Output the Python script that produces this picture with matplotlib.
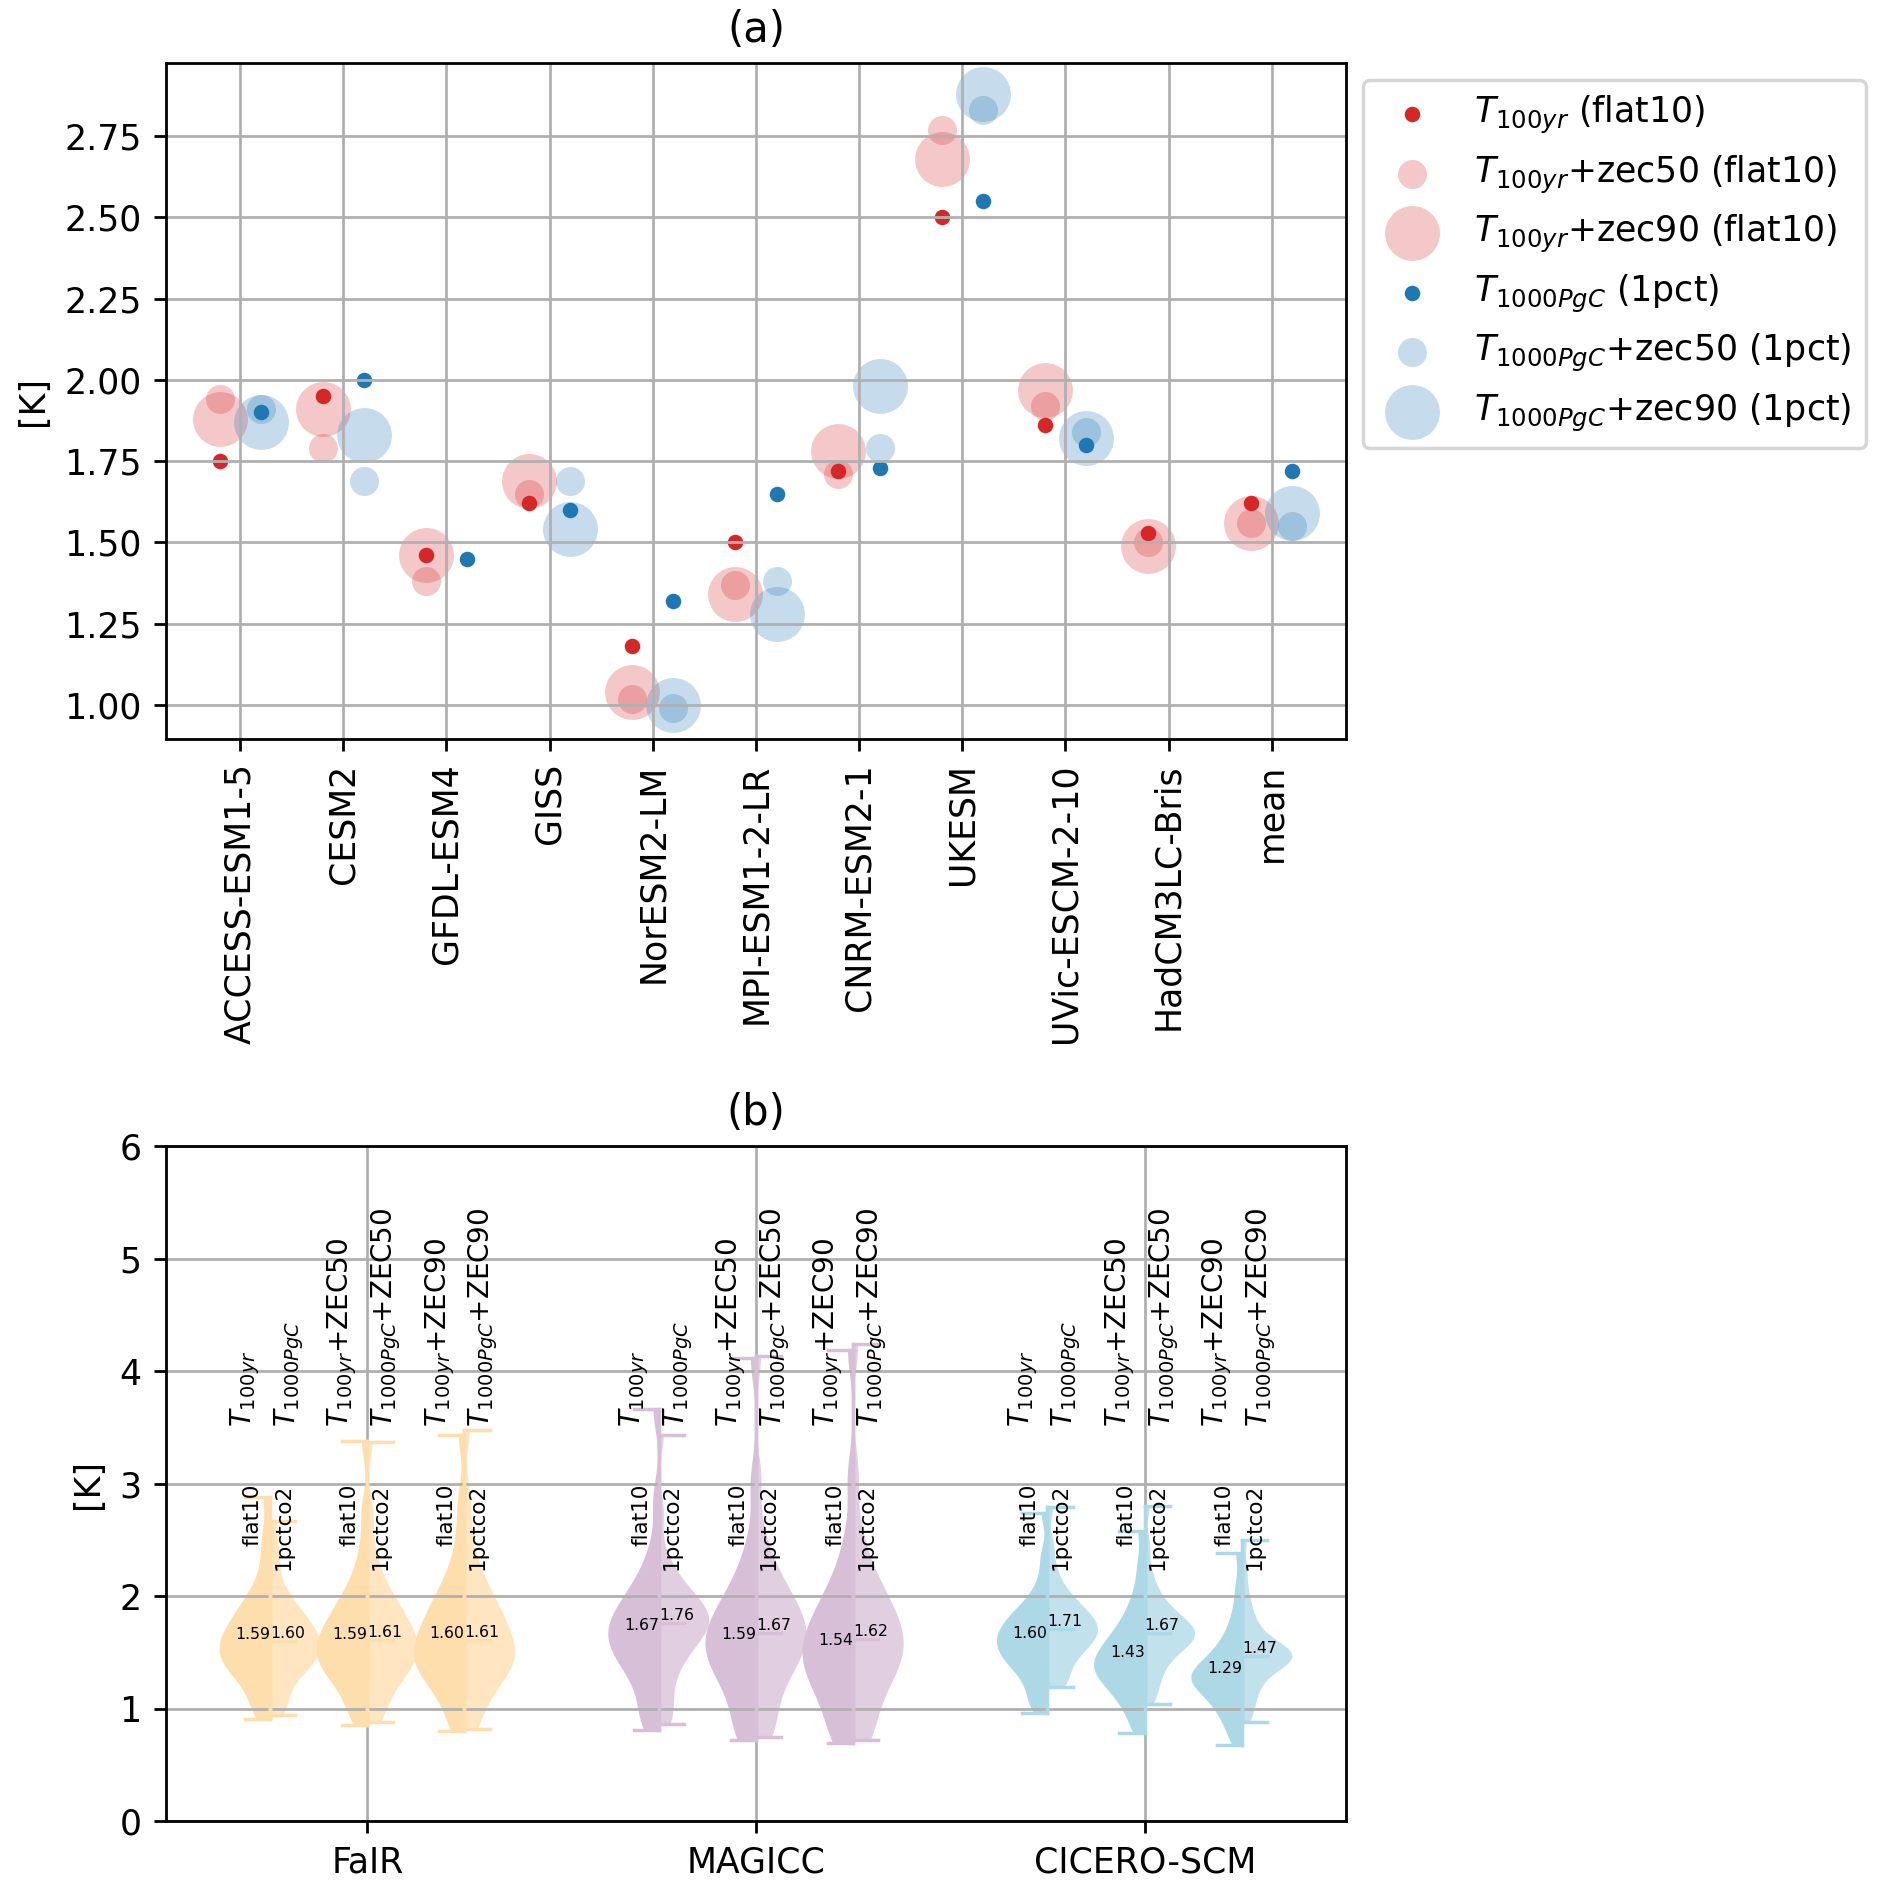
import numpy as np
import matplotlib
matplotlib.use("Agg")
import matplotlib.pyplot as plt

nan = np.nan

# ---------------- panel (a) data ----------------
models = ['ACCESS-ESM1-5', 'CESM2', 'GFDL-ESM4', 'GISS', 'NorESM2-LM',
          'MPI-ESM1-2-LR', 'CNRM-ESM2-1', 'UKESM', 'UVic-ESCM-2-10',
          'HadCM3LC-Bris', 'mean']
t100 = [1.75, 1.95, 1.46, 1.62, 1.18, 1.50, 1.72, 2.50, 1.86, 1.53, 1.62]
t100_zec50 = [1.94, 1.79, 1.38, 1.65, 1.02, 1.37, 1.71, 2.77, 1.92, 1.50, 1.56]
t100_zec90 = [1.88, 1.91, 1.46, 1.69, 1.04, 1.34, 1.78, 2.68, 1.97, 1.49, 1.56]
t1000 = [1.90, 2.00, 1.45, 1.60, 1.32, 1.65, 1.73, 2.55, 1.80, nan, 1.72]
t1000_zec50 = [1.91, 1.69, nan, 1.69, 0.99, 1.38, 1.79, 2.83, 1.84, nan, 1.55]
t1000_zec90 = [1.87, 1.83, nan, 1.54, 1.00, 1.28, 1.98, 2.88, 1.82, nan, 1.59]

# ---------------- panel (b) data ----------------
emulators = ['FaIR', 'MAGICC', 'CICERO-SCM']
emu_colors = ['navajowhite', 'thistle', 'lightblue']
top_left_labels = ['$T_{100yr}$', '$T_{100yr}$+ZEC50', '$T_{100yr}$+ZEC90']
top_right_labels = ['$T_{1000PgC}$', '$T_{1000PgC}$+ZEC50', '$T_{1000PgC}$+ZEC90']
scen_left = 'flat10'
scen_right = '1pctco2'

# representative sample values (sorted; middle value = median)
fair_flat10 = [
    [0.91, 1.00, 1.10, 1.21, 1.27, 1.32, 1.37, 1.41, 1.44, 1.48, 1.52, 1.55, 1.59, 1.63, 1.67, 1.71, 1.76, 1.81, 1.87, 1.93, 2.01, 2.12, 2.32, 2.55, 2.88],
    [0.85, 0.95, 1.06, 1.18, 1.25, 1.30, 1.35, 1.39, 1.43, 1.46, 1.51, 1.55, 1.59, 1.63, 1.67, 1.72, 1.77, 1.83, 1.89, 1.96, 2.05, 2.17, 2.39, 2.75, 3.38],
    [0.80, 0.92, 1.05, 1.17, 1.24, 1.29, 1.34, 1.38, 1.42, 1.46, 1.51, 1.55, 1.60, 1.65, 1.70, 1.76, 1.81, 1.88, 1.95, 2.03, 2.13, 2.27, 2.52, 2.85, 3.43],
]
fair_1pct = [
    [0.94, 1.03, 1.12, 1.23, 1.30, 1.35, 1.39, 1.43, 1.47, 1.50, 1.53, 1.56, 1.60, 1.63, 1.67, 1.71, 1.75, 1.79, 1.84, 1.90, 1.97, 2.06, 2.24, 2.42, 2.67],
    [0.88, 0.98, 1.08, 1.20, 1.27, 1.32, 1.37, 1.41, 1.45, 1.48, 1.53, 1.57, 1.61, 1.65, 1.69, 1.74, 1.79, 1.85, 1.91, 1.98, 2.07, 2.19, 2.41, 2.75, 3.37],
    [0.82, 0.94, 1.06, 1.18, 1.25, 1.30, 1.35, 1.39, 1.43, 1.47, 1.52, 1.56, 1.61, 1.66, 1.71, 1.77, 1.82, 1.89, 1.96, 2.04, 2.14, 2.28, 2.53, 2.87, 3.48],
]
magicc_flat10 = [
    [0.81, 0.90, 0.97, 1.15, 1.25, 1.33, 1.39, 1.45, 1.51, 1.55, 1.59, 1.63, 1.67, 1.71, 1.75, 1.80, 1.85, 1.90, 1.96, 2.03, 2.11, 2.23, 2.43, 2.85, 3.66],
    [0.72, 0.76, 0.82, 1.01, 1.12, 1.21, 1.28, 1.35, 1.41, 1.46, 1.50, 1.55, 1.59, 1.64, 1.69, 1.74, 1.80, 1.86, 1.93, 2.01, 2.11, 2.24, 2.48, 3.00, 4.12],
    [0.69, 0.73, 0.78, 0.97, 1.07, 1.15, 1.22, 1.28, 1.34, 1.39, 1.44, 1.49, 1.54, 1.59, 1.65, 1.70, 1.77, 1.83, 1.91, 2.00, 2.10, 2.25, 2.52, 3.05, 4.19],
]
magicc_1pct = [
    [0.86, 0.95, 1.06, 1.24, 1.35, 1.43, 1.50, 1.57, 1.63, 1.67, 1.70, 1.73, 1.76, 1.79, 1.82, 1.86, 1.89, 1.93, 1.98, 2.03, 2.10, 2.19, 2.34, 2.75, 3.43],
    [0.75, 0.80, 0.90, 1.09, 1.20, 1.29, 1.36, 1.43, 1.49, 1.54, 1.58, 1.63, 1.67, 1.72, 1.77, 1.82, 1.88, 1.94, 2.01, 2.09, 2.19, 2.32, 2.56, 3.05, 4.13],
    [0.72, 0.77, 0.86, 1.05, 1.15, 1.23, 1.30, 1.36, 1.42, 1.47, 1.52, 1.57, 1.62, 1.67, 1.73, 1.78, 1.85, 1.91, 1.99, 2.08, 2.18, 2.33, 2.60, 3.10, 4.24],
]
cicero_flat10 = [
    [0.96, 1.04, 1.12, 1.22, 1.29, 1.35, 1.40, 1.43, 1.47, 1.50, 1.54, 1.57, 1.60, 1.63, 1.66, 1.70, 1.73, 1.77, 1.81, 1.85, 1.91, 1.98, 2.12, 2.35, 2.74],
    [0.78, 0.90, 1.00, 1.08, 1.14, 1.19, 1.23, 1.27, 1.31, 1.34, 1.37, 1.40, 1.43, 1.46, 1.50, 1.54, 1.58, 1.63, 1.68, 1.74, 1.82, 1.92, 2.06, 2.28, 2.58],
    [0.68, 0.80, 0.89, 0.96, 1.02, 1.07, 1.12, 1.16, 1.19, 1.22, 1.25, 1.27, 1.29, 1.31, 1.34, 1.37, 1.41, 1.45, 1.50, 1.56, 1.63, 1.73, 1.87, 2.08, 2.38],
]
cicero_1pct = [
    [1.19, 1.23, 1.28, 1.38, 1.44, 1.49, 1.53, 1.57, 1.60, 1.63, 1.66, 1.69, 1.71, 1.74, 1.77, 1.80, 1.83, 1.87, 1.91, 1.96, 2.02, 2.10, 2.24, 2.45, 2.79],
    [1.04, 1.15, 1.25, 1.33, 1.40, 1.46, 1.51, 1.55, 1.58, 1.61, 1.63, 1.65, 1.67, 1.69, 1.71, 1.74, 1.77, 1.81, 1.85, 1.90, 1.97, 2.06, 2.20, 2.45, 2.80],
    [0.88, 0.99, 1.08, 1.16, 1.23, 1.29, 1.34, 1.38, 1.41, 1.43, 1.45, 1.46, 1.47, 1.48, 1.50, 1.52, 1.55, 1.59, 1.64, 1.70, 1.78, 1.88, 2.02, 2.23, 2.50],
]
flat10_sets = [fair_flat10, magicc_flat10, cicero_flat10]
pct_sets = [fair_1pct, magicc_1pct, cicero_1pct]

# ---------------- figure ----------------
DPI = 250
fig = plt.figure(figsize=(1892 / DPI, 1889 / DPI), dpi=DPI)
ax1 = fig.add_axes([0.0877, 0.6088, 0.6237, 0.3578])
ax2 = fig.add_axes([0.0877, 0.0360, 0.6237, 0.3573])

x = np.arange(len(models))
red = '#d62728'
blue = '#1f77b4'
s_dot, s_mid, s_big = 20, 70, 250
ax1.scatter(x - 0.2, t100, s=s_dot, color=red, lw=0, label='$T_{100yr}$ (flat10)')
ax1.scatter(x - 0.2, t100_zec50, s=s_mid, color=red, alpha=0.25, lw=0,
            label='$T_{100yr}$+zec50 (flat10)')
ax1.scatter(x - 0.2, t100_zec90, s=s_big, color=red, alpha=0.25, lw=0,
            label='$T_{100yr}$+zec90 (flat10)')
ax1.scatter(x + 0.2, t1000, s=s_dot, color=blue, lw=0, label='$T_{1000PgC}$ (1pct)')
ax1.scatter(x + 0.2, t1000_zec50, s=s_mid, color=blue, alpha=0.25, lw=0,
            label='$T_{1000PgC}$+zec50 (1pct)')
ax1.scatter(x + 0.2, t1000_zec90, s=s_big, color=blue, alpha=0.25, lw=0,
            label='$T_{1000PgC}$+zec90 (1pct)')
ax1.set_xticks(x)
ax1.set_xticklabels(models, rotation=90)
ax1.set_ylabel('[K]')
ax1.set_title('(a)')
ax1.grid(True)
ax1.legend(loc='upper left', bbox_to_anchor=(1, 1))

# ---------------- panel (b) ----------------
offsets = [-0.25, 0.0, 0.25]
W = 0.26
for i, (emu, col) in enumerate(zip(emulators, emu_colors)):
    for j, off in enumerate(offsets):
        pos = i + 1 + off
        for data, side, alpha in ((flat10_sets[i][j], 'low', 1.0),
                                  (pct_sets[i][j], 'high', 0.75)):
            vp = ax2.violinplot([data], positions=[pos], widths=W,
                                showmedians=True, side=side, bw_method=0.3,
                                points=200)
            for b in vp['bodies']:
                b.set_facecolor(col)
                b.set_edgecolor('none')
                b.set_alpha(alpha)
            for key in ('cmaxes', 'cmins', 'cbars', 'cmedians'):
                vp[key].set_color(col)
                vp[key].set_linewidth(1.0)
        med_l = np.median(flat10_sets[i][j])
        med_r = np.median(pct_sets[i][j])
        ax2.text(pos, med_l, f'{med_l:.2f}', ha='right', va='bottom', fontsize=4.5)
        ax2.text(pos, med_r, f'{med_r:.2f}', ha='left', va='bottom', fontsize=4.5)
        ax2.text(pos - 0.02, 3.5, top_left_labels[j], rotation=90,
                 ha='right', va='bottom', fontsize=8)
        ax2.text(pos + 0.006, 3.5, top_right_labels[j], rotation=90,
                 ha='left', va='bottom', fontsize=8)
        ax2.text(pos - 0.02, 3.0, scen_left, rotation=90,
                 ha='right', va='top', fontsize=6.2)
        ax2.text(pos + 0.008, 3.0, scen_right, rotation=90,
                 ha='left', va='top', fontsize=6.2)

ax2.set_ylim(0, 6)
ax2.set_xticks([1, 2, 3])
ax2.set_xticklabels(emulators)
ax2.set_ylabel('[K]')
ax2.set_title('(b)')
ax2.grid(True)

fig.savefig('out.png', dpi=DPI)
